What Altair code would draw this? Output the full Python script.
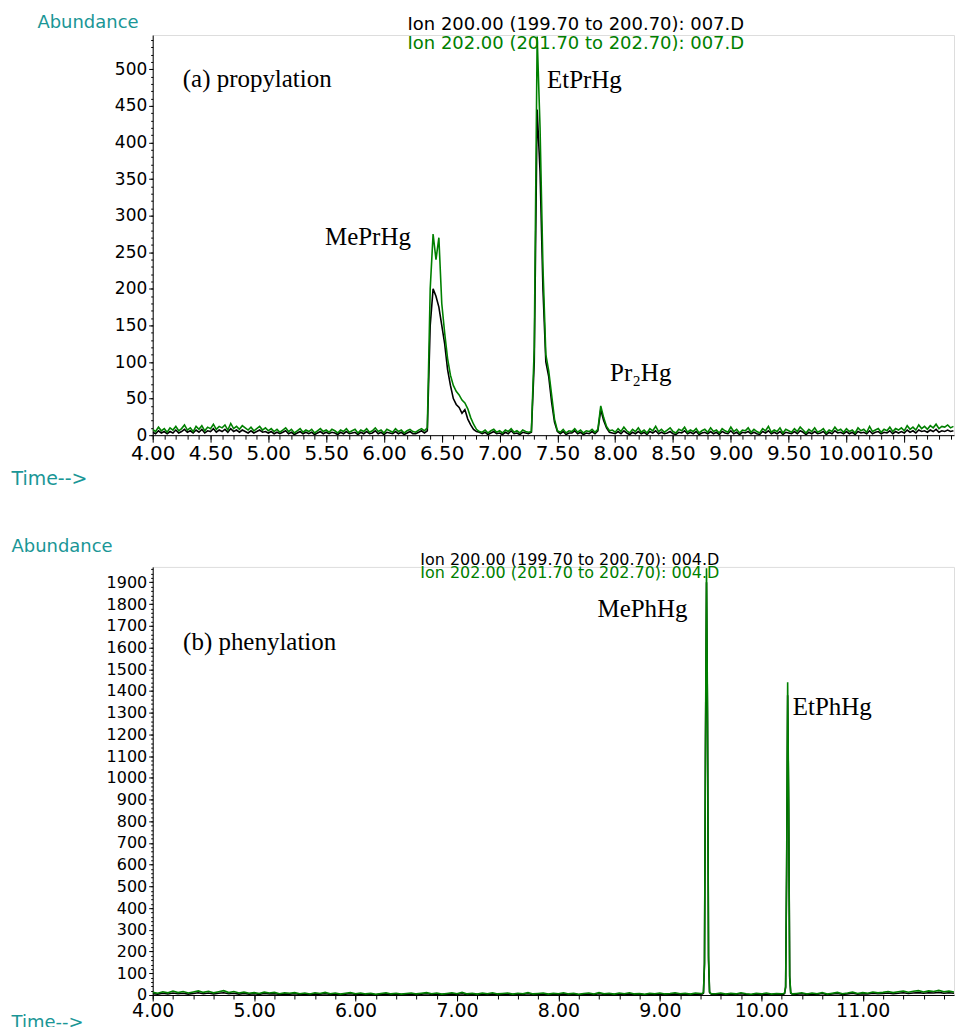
import altair as alt
import pandas as pd

TEAL = "#1a9696"
GREEN = "#008000"
BLACK = "#000000"

# ---------------- Panel (a): propylation, sampled every 0.025 min ----------------
TOP_STEP = 0.025
a_base1_t0 = 4.000
a_base1_g = [8, 5, 11, 6, 9, 4, 10, 7, 12, 6,
             9, 14, 7, 10, 5, 12, 8, 13, 6, 11,
             9, 15, 8, 12, 10, 14, 7, 16, 9, 12,
             8, 13, 10, 7, 11, 6, 9, 12, 7, 10,
             6, 9, 5, 8, 4, 7, 10, 5, 8, 3,
             6, 9, 4, 7, 5, 8, 3, 6, 9, 5,
             7, 4, 8, 6, 3, 7, 5, 9, 4, 6,
             8, 3, 7, 5, 9, 4, 6, 10, 5, 7,
             3, 8, 6, 4, 9, 5, 7, 3, 6, 8,
             5, 4, 7, 9, 6]
a_base1_b = [4, 2, 6, 3, 5, 2, 5, 3, 7, 3,
             5, 8, 4, 6, 3, 7, 4, 8, 3, 6,
             5, 9, 4, 7, 5, 8, 4, 9, 5, 7,
             4, 7, 5, 3, 6, 3, 5, 7, 4, 5,
             3, 5, 2, 4, 2, 4, 6, 2, 4, 1,
             3, 5, 2, 4, 2, 4, 1, 3, 5, 2,
             4, 2, 4, 3, 1, 4, 2, 5, 2, 3,
             4, 1, 4, 2, 5, 2, 3, 6, 2, 4,
             1, 4, 3, 2, 5, 2, 4, 1, 3, 5,
             2, 2, 4, 6, 3]
a_peak1_t0 = 6.375
a_peak1_g = [10, 200, 275, 240, 270, 180, 140, 105, 82, 68,
             60, 55, 48, 44, 36, 24, 15, 8, 5]
a_peak1_b = [6, 150, 200, 190, 175, 150, 125, 90, 68, 50,
             42, 38, 30, 35, 22, 14, 8, 5, 4]
a_base2_t0 = 6.850
a_base2_g = [4, 7, 3, 6, 8, 4, 6, 3, 7, 5, 9, 4, 6, 3, 7, 5, 4]
a_base2_b = [2, 4, 1, 3, 5, 2, 3, 1, 4, 2, 6, 2, 3, 1, 4, 3, 2]
a_peak2_t0 = 7.275
a_peak2_g = [5, 120, 545, 420, 230, 110, 88, 55, 22, 6]
a_peak2_b = [4, 100, 445, 360, 200, 100, 80, 45, 18, 5]
a_base3_t0 = 7.525
a_base3_g = [4, 8, 3, 6, 5, 9, 4, 7, 3, 6, 5, 8, 4]
a_base3_b = [2, 5, 1, 3, 3, 6, 2, 4, 1, 3, 2, 5, 2]
a_peak3_t0 = 7.850
a_peak3_g = [8, 40, 24, 12, 6]
a_peak3_b = [6, 35, 20, 10, 4]
a_base4_t0 = 7.975
a_base4_g = [7, 4, 9, 5, 11, 6, 3, 8, 5, 10,
             4, 7, 3, 9, 6, 12, 5, 8, 4, 7,
             10, 5, 3, 8, 6, 11, 4, 7, 5, 9,
             3, 6, 8, 4, 10, 5, 7, 3, 9, 6,
             4, 11, 5, 8, 3, 7, 6, 10, 4, 8,
             5, 3, 9, 6, 12, 4, 7, 5, 10, 3,
             8, 6, 4, 9, 5, 11, 7, 3, 8, 5,
             10, 4, 6, 9, 3, 7, 5, 11, 6, 8,
             4, 9, 5, 7, 3, 10, 6, 8, 4, 12,
             5, 7, 9, 4, 8, 6, 11, 5, 9, 7,
             10, 6, 13, 8, 11, 7, 14, 9, 12, 8,
             13, 10, 15, 9, 12, 11, 14, 10, 12]
a_base4_b = [3, 2, 5, 2, 6, 3, 1, 4, 2, 5,
             2, 4, 1, 5, 3, 6, 2, 4, 2, 3,
             5, 2, 1, 4, 3, 6, 2, 4, 2, 5,
             1, 3, 4, 2, 5, 2, 4, 1, 5, 3,
             2, 6, 2, 4, 1, 4, 3, 5, 2, 4,
             2, 1, 5, 3, 6, 2, 4, 2, 5, 1,
             4, 3, 2, 5, 2, 6, 4, 1, 4, 2,
             5, 2, 3, 5, 1, 4, 2, 6, 3, 4,
             2, 5, 2, 4, 1, 5, 3, 4, 2, 6,
             2, 4, 5, 2, 4, 3, 6, 2, 5, 3,
             5, 3, 7, 4, 6, 3, 7, 5, 6, 4,
             7, 5, 8, 4, 6, 5, 7, 5, 6]

top_segments = [
    (a_base1_t0, TOP_STEP, a_base1_g, a_base1_b),
    (a_peak1_t0, TOP_STEP, a_peak1_g, a_peak1_b),
    (a_base2_t0, TOP_STEP, a_base2_g, a_base2_b),
    (a_peak2_t0, TOP_STEP, a_peak2_g, a_peak2_b),
    (a_base3_t0, TOP_STEP, a_base3_g, a_base3_b),
    (a_peak3_t0, TOP_STEP, a_peak3_g, a_peak3_b),
    (a_base4_t0, TOP_STEP, a_base4_g, a_base4_b),
]

# ---------------- Panel (b): phenylation ----------------
b_base1_t0, b_base1_step = 4.00, 0.05
b_base1_g = [12, 8, 15, 10, 18, 11, 16, 9, 14, 19,
             12, 17, 10, 15, 20, 11, 16, 9, 13, 8,
             11, 7, 13, 9, 12, 6, 10, 8, 11, 6,
             9, 5, 10, 7, 12, 6, 9, 4, 8, 11,
             6, 9, 5, 8, 3, 7, 10, 5, 8, 4,
             7, 9, 5, 8, 11, 6, 9, 4, 7, 10,
             6, 12, 5, 8, 4, 9, 6, 10, 5, 7,
             9, 4, 8, 6, 11, 5, 7, 9, 4, 8,
             6, 10, 5, 8, 3, 7, 9, 5, 11, 6,
             8, 4, 9, 6, 10, 5, 7, 3, 8, 6,
             9, 5, 7, 10, 6, 8, 4, 9, 7]
b_base1_b = [6, 4, 8, 5, 9, 6, 8, 4, 7, 10,
             6, 9, 5, 8, 10, 6, 8, 4, 7, 4,
             6, 3, 7, 5, 6, 3, 5, 4, 6, 3,
             5, 2, 5, 4, 6, 3, 5, 2, 4, 6,
             3, 5, 2, 4, 1, 4, 5, 2, 4, 2,
             4, 5, 3, 4, 6, 3, 5, 2, 4, 5,
             3, 6, 2, 4, 2, 5, 3, 5, 2, 4,
             5, 2, 4, 3, 6, 2, 4, 5, 2, 4,
             3, 5, 2, 4, 1, 4, 5, 2, 6, 3,
             4, 2, 5, 3, 5, 2, 4, 1, 4, 3,
             5, 2, 4, 5, 3, 4, 2, 5, 4]
b_peak1_t0, b_peak1_step = 9.42, 0.01
b_peak1_g = [8, 12, 150, 1200, 1965, 1300, 180, 15, 8, 6]
b_peak1_b = [5, 9, 140, 1150, 1900, 1250, 160, 12, 6, 4]
b_base2_t0, b_base2_step = 9.55, 0.05
b_base2_g = [6, 9, 4, 8, 5, 10, 6, 3, 8, 5, 9, 4, 7, 6]
b_base2_b = [3, 5, 2, 4, 3, 6, 3, 1, 4, 3, 5, 2, 4, 3]
b_peak2_t0, b_peak2_step = 10.22, 0.01
b_peak2_g = [7, 10, 40, 600, 1440, 900, 90, 12, 7, 5]
b_peak2_b = [4, 7, 35, 560, 1380, 850, 80, 9, 5, 3]
b_base3_t0, b_base3_step = 10.35, 0.05
b_base3_g = [7, 10, 5, 9, 6, 11, 4, 8, 12, 6,
             9, 13, 7, 11, 8, 14, 10, 12, 16, 11,
             15, 18, 13, 17, 20, 14, 19, 16, 21, 15,
             18, 14]
b_base3_b = [4, 6, 3, 5, 3, 7, 2, 5, 7, 3,
             5, 8, 4, 6, 5, 8, 6, 7, 9, 6,
             8, 10, 7, 9, 11, 8, 10, 9, 12, 8,
             10, 8]

bottom_segments = [
    (b_base1_t0, b_base1_step, b_base1_g, b_base1_b),
    (b_peak1_t0, b_peak1_step, b_peak1_g, b_peak1_b),
    (b_base2_t0, b_base2_step, b_base2_g, b_base2_b),
    (b_peak2_t0, b_peak2_step, b_peak2_g, b_peak2_b),
    (b_base3_t0, b_base3_step, b_base3_g, b_base3_b),
]

ION_LABELS = ["Ion 200", "Ion 202"]

top_ann_text = ["(a) propylation", "MePrHg", "EtPrHg", "Pr\u2082Hg"]
top_ann_t = [4.26, 5.49, 7.41, 7.955]
top_ann_v = [487, 271, 486, 85]
bot_ann_text = ["(b) phenylation", "MePhHg", "EtPhHg"]
bot_ann_t = [4.30, 8.385, 10.31]
bot_ann_v = [1627, 1778, 1328]

top_legend = ["Ion 200.00 (199.70 to 200.70): 007.D", "Ion 202.00 (201.70 to 202.70): 007.D"]
bot_legend = ["Ion 200.00 (199.70 to 200.70): 004.D", "Ion 202.00 (201.70 to 202.70): 004.D"]

# Axis tick values: major (labelled) and minor
top_x_major = [4.0, 4.5, 5.0, 5.5, 6.0, 6.5, 7.0, 7.5, 8.0, 8.5, 9.0, 9.5, 10.0, 10.5]
top_x_minor = [round(4.0 + 0.1 * i, 2) for i in range(70)]
top_y_major = [0, 50, 100, 150, 200, 250, 300, 350, 400, 450, 500]
top_y_minor = list(range(0, 550, 10))
bot_x_major = [4.0, 5.0, 6.0, 7.0, 8.0, 9.0, 10.0, 11.0]
bot_x_minor = [round(4.0 + 0.2 * i, 2) for i in range(40)]
bot_y_major = list(range(0, 2000, 100))
bot_y_minor = list(range(0, 1970, 20))


def build(segments):
    rows = []
    for t0, step, g, b in segments:
        assert len(g) == len(b), (t0, len(g), len(b))
        for i, (gv, bv) in enumerate(zip(g, b)):
            t = round(t0 + step * i, 4)
            rows.append({"t": t, "ion": ION_LABELS[0], "v": bv})
            rows.append({"t": t, "ion": ION_LABELS[1], "v": gv})
    return pd.DataFrame(rows)


def panel(df, xdom, ydom, w, h, xmaj, xmin, ymaj, ymin,
          xlab_size, ylab_size, xtick_major, xtick_minor, ytick_major, ytick_minor,
          ytitle_xy, ytitle_size, xtitle_xy, xtitle_size,
          ann_text, ann_t, ann_v, legend, legend_x, legend_y, legend_size):
    xs = alt.Scale(domain=xdom, nice=False, zero=False)
    ys = alt.Scale(domain=ydom, nice=False)
    xaxis = alt.Axis(
        orient="bottom", values=xmaj, format=".2f", tickSize=xtick_major,
        labelFont="DejaVu Sans", labelFontSize=xlab_size, labelPadding=1,
        labelOverlap=False, labelFlush=False,
        title="Time-->", titleColor=TEAL, titleFont="DejaVu Sans", titleFontSize=xtitle_size,
        titleFontWeight="normal", titleAngle=0, titleAlign="left", titleBaseline="middle",
        titleX=xtitle_xy[0], titleY=xtitle_xy[1],
        domainColor=BLACK, tickColor=BLACK, labelColor=BLACK, grid=False,
    )
    yaxis = alt.Axis(
        orient="left", values=ymaj, format="d", tickSize=ytick_major,
        labelFont="DejaVu Sans", labelFontSize=ylab_size, labelPadding=2,
        labelOverlap=False, labelFlush=False,
        title="Abundance", titleColor=TEAL, titleFont="DejaVu Sans", titleFontSize=ytitle_size,
        titleFontWeight="normal", titleAngle=0, titleAlign="left", titleBaseline="middle",
        titleX=ytitle_xy[0], titleY=ytitle_xy[1],
        domainColor=BLACK, tickColor=BLACK, labelColor=BLACK, grid=False,
    )
    minor = alt.Chart(df).mark_point(opacity=0, size=1).encode(
        x=alt.X("t:Q", scale=xs, axis=alt.Axis(
            orient="bottom", values=xmin, labels=False, domain=False, tickSize=xtick_minor,
            tickColor=BLACK, title=None, grid=False)),
        y=alt.Y("v:Q", scale=ys, axis=alt.Axis(
            orient="left", values=ymin, labels=False, domain=False, tickSize=ytick_minor,
            tickColor=BLACK, title=None, grid=False)),
    )
    lines = alt.Chart(df).mark_line(strokeWidth=1.6, clip=True).encode(
        x=alt.X("t:Q", scale=xs, axis=xaxis),
        y=alt.Y("v:Q", scale=ys, axis=yaxis),
        color=alt.Color("ion:N", scale=alt.Scale(domain=ION_LABELS, range=[BLACK, GREEN]), legend=None),
    )
    ann_df = pd.DataFrame({"label": ann_text, "t": ann_t, "v": ann_v})
    ann = alt.Chart(ann_df).mark_text(
        font="Liberation Serif", fontSize=25, align="left", baseline="middle", color=BLACK
    ).encode(x=alt.X("t:Q", axis=None), y=alt.Y("v:Q", axis=None), text="label:N")
    one = pd.DataFrame({"k": [0]})
    leg1 = alt.Chart(one).mark_text(
        font="DejaVu Sans", fontSize=legend_size, align="center", baseline="middle", color=BLACK
    ).encode(x=alt.value(legend_x), y=alt.value(legend_y[0]), text=alt.value(legend[0]))
    leg2 = alt.Chart(one).mark_text(
        font="DejaVu Sans", fontSize=legend_size, align="center", baseline="middle", color=GREEN
    ).encode(x=alt.value(legend_x), y=alt.value(legend_y[1]), text=alt.value(legend[1]))
    return (
        alt.layer(minor, lines, ann, leg1, leg2)
        .resolve_axis(x="independent", y="independent")
        .properties(width=w, height=h)
    )


top_df = build(top_segments)
bot_df = build(bottom_segments)

top = panel(
    top_df, [4.0, 10.93], [0, 547], 803, 401,
    top_x_major, top_x_minor, top_y_major, top_y_minor,
    20, 17, 7, 4, 4, 2,
    (-116, -13), 18, (-142, 43), 19,
    top_ann_text, top_ann_t, top_ann_v,
    top_legend, 424, (-10, 9), 18,
)
bottom = panel(
    bot_df, [4.0, 11.9], [0, 1971], 803, 429,
    bot_x_major, bot_x_minor, bot_y_major, bot_y_minor,
    19, 16, 6, 4, 4, 2,
    (-142, -20), 18, (-142, 28), 18,
    bot_ann_text, bot_ann_t, bot_ann_v,
    bot_legend, 418, (-7, 6), 16,
)

chart = alt.vconcat(top, bottom, spacing=48).properties(
    padding={"left": 2, "top": 3, "right": 0, "bottom": 0},
).configure_view(stroke=None).configure(background="white")

chart.save("out.html", embed_options={"renderer": "svg", "actions": False})
